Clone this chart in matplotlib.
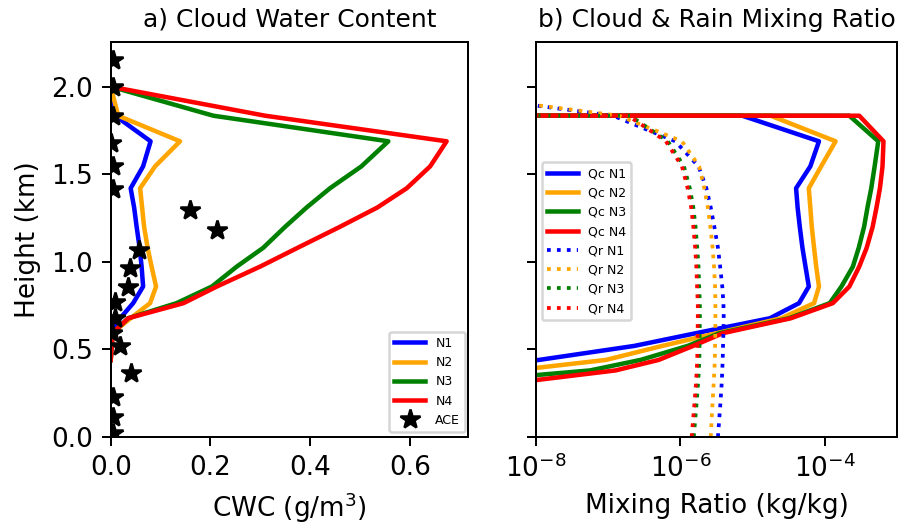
import numpy as np
import matplotlib
matplotlib.use("Agg")
import matplotlib.pyplot as plt
from matplotlib.ticker import NullLocator

# ===================== data =====================
# panel a: cloud water content (g/m3) on model levels (km)
height_cwc = [0.44, 0.593, 0.678, 0.764, 0.859, 0.973, 1.08, 1.2, 1.31, 1.42, 1.545, 1.688, 1.834, 2.0]
cwc_n1 = [0.0, 0.002, 0.019, 0.045, 0.065, 0.062, 0.058, 0.052, 0.047, 0.040, 0.065, 0.080, 0.009, 0.0]
cwc_n2 = [0.0, 0.003, 0.040, 0.079, 0.091, 0.082, 0.074, 0.067, 0.063, 0.059, 0.089, 0.139, 0.015, 0.0]
cwc_n3 = [0.0, 0.004, 0.035, 0.132, 0.203, 0.253, 0.306, 0.350, 0.393, 0.440, 0.503, 0.557, 0.206, 0.0]
cwc_n4 = [0.0, 0.004, 0.035, 0.146, 0.213, 0.300, 0.375, 0.460, 0.535, 0.594, 0.641, 0.674, 0.310, 0.0]

# ACE observations
ace_height = [2.154, 2.0, 1.834, 1.68, 1.545, 1.415, 1.293, 1.179, 1.069, 0.962,
              0.859, 0.773, 0.678, 0.593, 0.52, 0.368, 0.23, 0.116, 0.02]
ace_cwc = [0.004, 0.004, 0.004, 0.001, 0.004, 0.004, 0.159, 0.214, 0.057, 0.039,
           0.035, 0.009, 0.009, 0.002, 0.019, 0.040, 0.005, 0.004, 0.004]

# panel b: mixing ratios (kg/kg)
height_q = [0.0, 0.2, 0.3, 0.38, 0.44, 0.52, 0.593, 0.678, 0.764, 0.859,
            0.973, 1.08, 1.2, 1.31, 1.42, 1.545, 1.688, 1.834, 2.0]
qc_n1 = [1e-14, 1e-12, 1e-11, 3.2e-10, 1.1e-8, 2.3e-7, 1.66e-6, 1.74e-5, 4.4e-5, 6.0e-5,
         5.4e-5, 4.9e-5, 4.5e-5, 4.2e-5, 4.0e-5, 6.3e-5, 8.3e-5, 7.2e-6, 0.0]
qc_n2 = [1e-14, 1e-12, 1e-10, 5.0e-9, 9.3e-8, 5.6e-7, 3.2e-6, 2.5e-5, 7.1e-5, 8.3e-5,
         7.6e-5, 7.1e-5, 6.6e-5, 6.3e-5, 6.0e-5, 8.9e-5, 1.41e-4, 1.78e-5, 0.0]
qc_n3 = [1e-14, 1e-11, 3.2e-10, 5.6e-8, 2.8e-7, 1.26e-6, 3.5e-6, 3.2e-5, 1.17e-4, 1.70e-4,
         2.45e-4, 2.95e-4, 3.5e-4, 3.9e-4, 4.4e-4, 4.9e-4, 5.5e-4, 2.19e-4, 0.0]
qc_n4 = [1e-13, 1e-10, 3.2e-9, 1.26e-7, 5.0e-7, 1.5e-6, 3.9e-6, 3.4e-5, 1.29e-4, 2.19e-4,
         3.0e-4, 3.8e-4, 4.6e-4, 5.2e-4, 5.8e-4, 6.3e-4, 6.5e-4, 3.0e-4, 0.0]

qr_n1 = [3.31e-6, 3.59e-6, 3.72e-6, 3.80e-6, 3.85e-6, 3.89e-6, 3.94e-6, 3.98e-6, 3.94e-6, 3.80e-6,
         3.55e-6, 3.31e-6, 2.95e-6, 2.63e-6, 2.29e-6, 1.78e-6, 8.5e-7, 1.17e-7, 1e-10]
qr_n2 = [2.63e-6, 2.79e-6, 2.88e-6, 2.95e-6, 3.00e-6, 3.02e-6, 3.04e-6, 3.05e-6, 3.05e-6, 3.02e-6,
         2.92e-6, 2.79e-6, 2.60e-6, 2.40e-6, 2.14e-6, 1.82e-6, 1.05e-6, 1.41e-7, 1e-10]
qr_n3 = [1.53e-6, 1.68e-6, 1.75e-6, 1.80e-6, 1.83e-6, 1.84e-6, 1.85e-6, 1.86e-6, 1.86e-6, 1.82e-6,
         1.78e-6, 1.71e-6, 1.62e-6, 1.51e-6, 1.35e-6, 1.12e-6, 6.7e-7, 2.0e-7, 0.0]
qr_n4 = [1.43e-6, 1.57e-6, 1.64e-6, 1.68e-6, 1.71e-6, 1.72e-6, 1.73e-6, 1.74e-6, 1.74e-6, 1.70e-6,
         1.66e-6, 1.60e-6, 1.51e-6, 1.41e-6, 1.26e-6, 1.05e-6, 6.3e-7, 1.9e-7, 0.0]

run_names = ['N1', 'N2', 'N3', 'N4']
colors = ['blue', 'orange', 'green', 'red']

# ===================== plot =====================
fs = 10.5
leg_kw = dict(fontsize=5.0, handlelength=2.5, borderaxespad=0)
fig = plt.figure(figsize=(909 / 180, 526 / 180), dpi=180)
ax1 = fig.add_axes([0.1218, 0.1692, 0.3931, 0.7510])
ax2 = fig.add_axes([0.5897, 0.1692, 0.3971, 0.7510], sharey=ax1)

# a) CWC
for vals, name, c in zip([cwc_n1, cwc_n2, cwc_n3, cwc_n4], run_names, colors):
    ax1.plot(vals, height_cwc, color=c, lw=1.8, label=name)
ax1.plot(ace_cwc, ace_height, '*', color='black', markersize=8, linestyle='none', label='ACE')

ax1.set_xlim(0, 0.717)
ax1.set_ylim(0, 2.255)
ax1.set_xticks([0.0, 0.2, 0.4, 0.6])
ax1.set_yticks([0.0, 0.5, 1.0, 1.5, 2.0])
ax1.set_xlabel('CWC (g/m$^3$)', fontsize=fs)
ax1.set_ylabel('Height (km)', fontsize=fs)
ax1.set_title('a) Cloud Water Content', fontsize=10)
ax1.tick_params(labelsize=fs)
ax1.legend(loc='lower right', bbox_to_anchor=(0.992, 0.013), **leg_kw)

# b) mixing ratios
for vals, name, c in zip([qc_n1, qc_n2, qc_n3, qc_n4], run_names, colors):
    ax2.plot(vals, height_q, color=c, lw=1.8, label='Qc ' + name)
for vals, name, c in zip([qr_n1, qr_n2, qr_n3, qr_n4], run_names, colors):
    ax2.plot(vals, height_q, color=c, lw=1.5, linestyle=':', label='Qr ' + name)

ax2.set_xscale('log')
ax2.set_xlim(1e-8, 1e-3)
ax2.set_xticks([1e-8, 1e-6, 1e-4])
ax2.xaxis.set_minor_locator(NullLocator())
ax2.tick_params(labelsize=fs, labelleft=False)
ax2.set_xlabel('Mixing Ratio (kg/kg)', fontsize=fs)
ax2.set_title('b) Cloud & Rain Mixing Ratio', fontsize=10)
ax2.legend(loc='lower left', bbox_to_anchor=(0.016, 0.296), **leg_kw)

fig.savefig('out.png', dpi=180)
